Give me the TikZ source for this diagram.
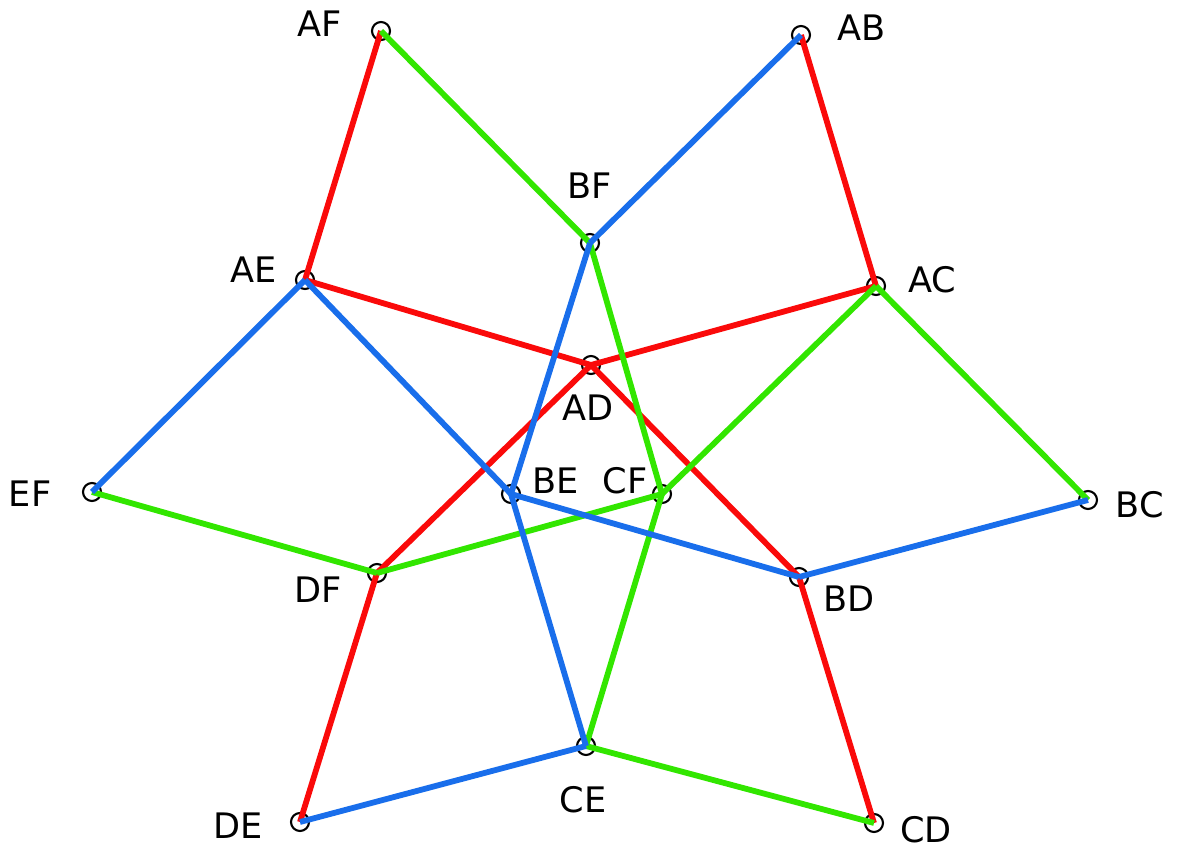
\documentclass[tikz,border=0pt]{standalone}
\usepackage{fontspec}
\setmainfont{DejaVu Sans}
\begin{document}
\begin{tikzpicture}[x=0.02cm,y=-0.02cm,
  vtx/.style={circle,draw=black,line width=1.2pt,minimum size=0.36cm,inner sep=0pt},
  lab/.style={font=\fontsize{20}{23}\selectfont,inner sep=0pt,text=black},
  redE/.style={draw={rgb,255:red,250;green,10;blue,10},line width=3.3pt},
  grnE/.style={draw={rgb,255:red,50;green,230;blue,0},line width=3.3pt},
  bluE/.style={draw={rgb,255:red,25;green,110;blue,235},line width=3.3pt}]
\useasboundingbox (0,0) rectangle (1178,851);
% vertices
\node[vtx] (AF) at (381,31) {};
\node[vtx] (AB) at (801,35) {};
\node[vtx] (BF) at (590,243) {};
\node[vtx] (AE) at (305,280) {};
\node[vtx] (AC) at (876,286) {};
\node[vtx] (AD) at (591,365) {};
\node[vtx] (EF) at (92,492) {};
\node[vtx] (BE) at (511,494) {};
\node[vtx] (CF) at (662,494) {};
\node[vtx] (BC) at (1088,500) {};
\node[vtx] (DF) at (377,573) {};
\node[vtx] (BD) at (799,577) {};
\node[vtx] (CE) at (586,746) {};
\node[vtx] (DE) at (300,822) {};
\node[vtx] (CD) at (874,823) {};
% labels
\node[lab] (lAF) at (320,24) {AF};
\node[lab] (lAB) at (862,28) {AB};
\node[lab] (lBF) at (590,186) {BF};
\node[lab] (lAE) at (254,270) {AE};
\node[lab] (lAC) at (932,280) {AC};
\node[lab] (lAD) at (588,408) {AD};
\node[lab] (lEF) at (30,494) {EF};
\node[lab] (lBE) at (556,481) {BE};
\node[lab] (lCF) at (625,481) {CF};
\node[lab] (lBC) at (1140,505) {BC};
\node[lab] (lDF) at (318,590) {DF};
\node[lab] (lBD) at (849,599) {BD};
\node[lab] (lCE) at (583,800) {CE};
\node[lab] (lDE) at (238,826) {DE};
\node[lab] (lCD) at (926,830) {CD};
% red edges
\draw[redE] (AF.center) -- (AE.center);
\draw[redE] (AB.center) -- (AC.center);
\draw[redE] (AE.center) -- (AD.center);
\draw[redE] (AD.center) -- (AC.center);
\draw[redE] (AD.center) -- (DF.center);
\draw[redE] (AD.center) -- (BD.center);
\draw[redE] (DF.center) -- (DE.center);
\draw[redE] (BD.center) -- (CD.center);
% green edges
\draw[grnE] (AF.center) -- (BF.center);
\draw[grnE] (BF.center) -- (CF.center);
\draw[grnE] (AC.center) -- (CF.center);
\draw[grnE] (AC.center) -- (BC.center);
\draw[grnE] (EF.center) -- (DF.center);
\draw[grnE] (DF.center) -- (CF.center);
\draw[grnE] (CF.center) -- (CE.center);
\draw[grnE] (CE.center) -- (CD.center);
% blue edges
\draw[bluE] (AB.center) -- (BF.center);
\draw[bluE] (AE.center) -- (EF.center);
\draw[bluE] (AE.center) -- (BE.center);
\draw[bluE] (BF.center) -- (BE.center);
\draw[bluE] (BE.center) -- (BD.center);
\draw[bluE] (BC.center) -- (BD.center);
\draw[bluE] (BE.center) -- (CE.center);
\draw[bluE] (DE.center) -- (CE.center);
\end{tikzpicture}
\end{document}
